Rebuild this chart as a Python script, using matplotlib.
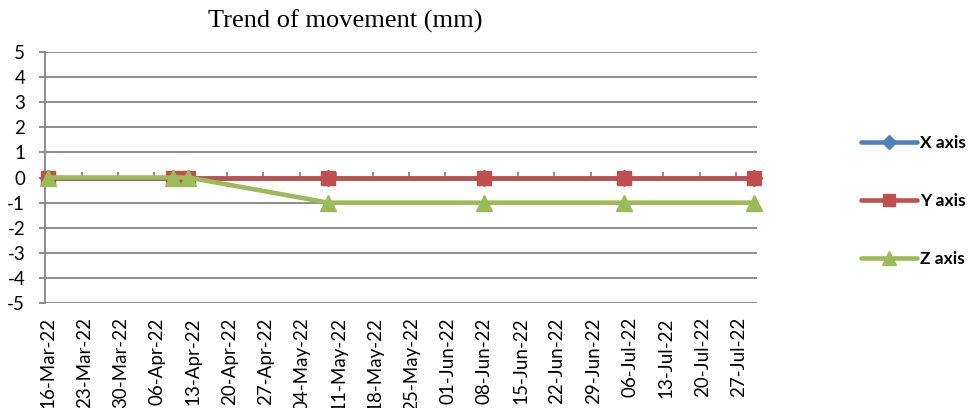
import matplotlib
matplotlib.use("Agg")
import matplotlib.pyplot as plt
import matplotlib.dates as mdates
import numpy as np

# Survey dates and measured movement (mm)
survey_dates = ["2022-03-16", "2022-04-09", "2022-04-12", "2022-05-09",
                "2022-06-08", "2022-07-05", "2022-07-30"]
x_axis_mm = [0, 0, 0, 0, 0, 0, 0]
y_axis_mm = [0, 0, 0, 0, 0, 0, 0]
z_axis_mm = [0, 0, 0, -1, -1, -1, -1]

series_labels = ["X axis", "Y axis", "Z axis"]
y_ticks = [5, 4, 3, 2, 1, 0, -1, -2, -3, -4, -5]
tick_start = "2022-03-16"
tick_end = "2022-07-27"
tick_step_days = 7

plt.rcParams["axes.unicode_minus"] = False

dates = np.array([np.datetime64(d) for d in survey_dates])
tick_dates = np.arange(np.datetime64(tick_start), np.datetime64(tick_end) + 1,
                       np.timedelta64(tick_step_days, "D"))

label_font = "Lato"
grid_col = "#868686"
colors = ["#4F81BD", "#C0504D", "#9BBB59"]
markers = ["D", "s", "^"]
msizes = [8, 10, 12]

fig = plt.figure(figsize=(9.73, 4.08), dpi=100)
ax = fig.add_axes([0.0466, 0.2566, 0.7312, 0.6167])

half_day = np.timedelta64(12, "h")
for vals, col, mk, ms, lab in zip([x_axis_mm, y_axis_mm, z_axis_mm], colors,
                                  markers, msizes, series_labels):
    ax.plot(dates, vals, color=col, lw=3.3, marker=mk, markersize=ms,
            markerfacecolor=col, markeredgecolor=col, label=lab,
            solid_capstyle="round", zorder=3, clip_on=False)

ax.set_xlim(dates[0] - half_day, dates[-1] + half_day)
ax.set_ylim(-5, 5)
ax.set_yticks(y_ticks)
ax.set_yticklabels([str(v) for v in y_ticks])
ax.yaxis.grid(True, color=grid_col, lw=1.3)
ax.set_axisbelow(True)

for side in ["top", "right", "bottom"]:
    ax.spines[side].set_visible(False)
ax.spines["left"].set_color(grid_col)
ax.spines["left"].set_linewidth(1.3)
ax.tick_params(axis="y", length=4.5, width=1.3, color=grid_col, pad=10,
               labelsize=13.5, labelfontfamily=label_font)

ax.set_xticks(tick_dates)
ax.set_xticklabels([mdates.num2date(mdates.date2num(t)).strftime("%d-%b-%y")
                    for t in tick_dates], rotation=90,
                   fontsize=13.5, family=label_font)
ax.tick_params(axis="x", length=0, pad=10)

# category axis crossing at zero, with its tick marks at the day boundaries
sec = ax.secondary_xaxis(0.5)
sec.set_xticks(tick_dates - half_day)
sec.set_xticklabels([])
sec.spines["bottom"].set_visible(False)
sec.tick_params(axis="x", direction="out", length=4, width=1.3, color=grid_col)

fig.text(345 / 973, 1 - 21 / 408, "Trend of movement (mm)",
         family="Liberation Serif", fontsize=19, ha="center", va="center")

leg = fig.legend(loc="center left", bbox_to_anchor=(861 / 973, 1 - 201 / 408),
                 frameon=False, borderpad=0, borderaxespad=0,
                 handlelength=3.2, handletextpad=0.2, labelspacing=2.4,
                 markerscale=0.85,
                 prop={"family": label_font, "weight": "bold", "size": 12.5})

fig.savefig("out.png", dpi=100)
